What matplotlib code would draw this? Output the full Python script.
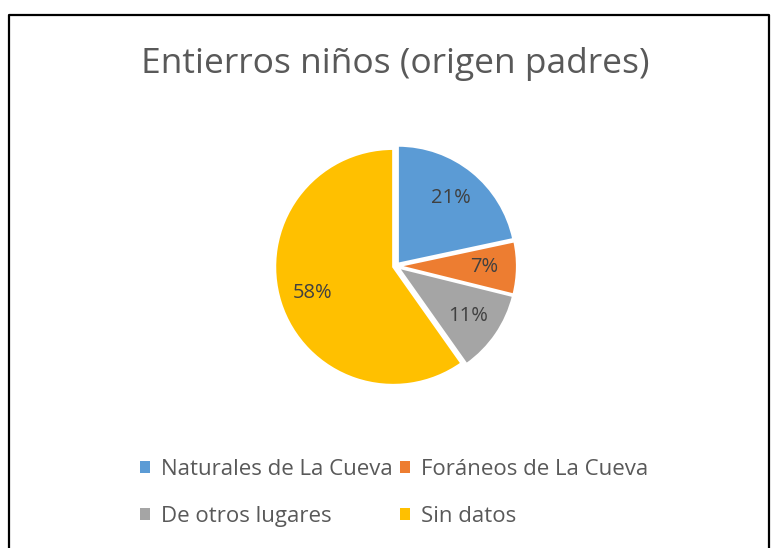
import matplotlib.pyplot as plt
from matplotlib.patches import Patch
from matplotlib.lines import Line2D

categories = ["Naturales de La Cueva", "Foráneos de La Cueva", "De otros lugares", "Sin datos"]
values = [21, 7, 11, 58]
colors = ["#5B9BD5", "#ED7D31", "#A5A5A5", "#FFC000"]

W, H = 772, 548
fig = plt.figure(figsize=(W / 100, H / 100), dpi=100)
plt.rcParams["font.family"] = ["Open Sans", "DejaVu Sans"]

# chart border (bottom runs off the image)
fig.add_artist(Line2D([9 / W, 9 / W, 769 / W, 769 / W], [-0.1, 1 - 15 / H, 1 - 15 / H, -0.1],
                      transform=fig.transFigure, color="black", lw=1.6))

fig.text(395 / W, 1 - 64 / H, "Entierros niños (origen padres)", ha="center", va="center",
         fontsize=25.5, color="#595959")

r_px = 118
cx, cy = 396, 266
ax = fig.add_axes([(cx - r_px * 1.1) / W, 1 - (cy + r_px * 1.1) / H, 2.2 * r_px / W, 2.2 * r_px / H])
wedges, texts = ax.pie(values, colors=colors, startangle=90, counterclock=False,
                       explode=[0.025] * 4, labels=[f"{v}%" for v in values],
                       labeldistance=0.72, wedgeprops=dict(edgecolor="white", linewidth=1.5),
                       textprops=dict(color="#404040", fontsize=14.5))
for t in texts:
    t.set_ha("center")
    t.set_va("center")
ax.set_xlim(-1.1, 1.1)
ax.set_ylim(-1.1, 1.1)
ax.set_aspect("equal")
ax.axis("off")

# legend fills by column, so reorder to read row by row
order = [0, 2, 1, 3]
handles = [Patch(facecolor=colors[i], label=categories[i]) for i in order]
fig.legend(handles, [categories[i] for i in order], ncol=2, loc="center",
           bbox_to_anchor=(394 / W, 1 - 493 / H), frameon=False, fontsize=16,
           labelcolor="#595959", handlelength=0.45, handleheight=0.45,
           handletextpad=0.5, columnspacing=0.3, labelspacing=1.2)

fig.savefig("out.png", dpi=100)
